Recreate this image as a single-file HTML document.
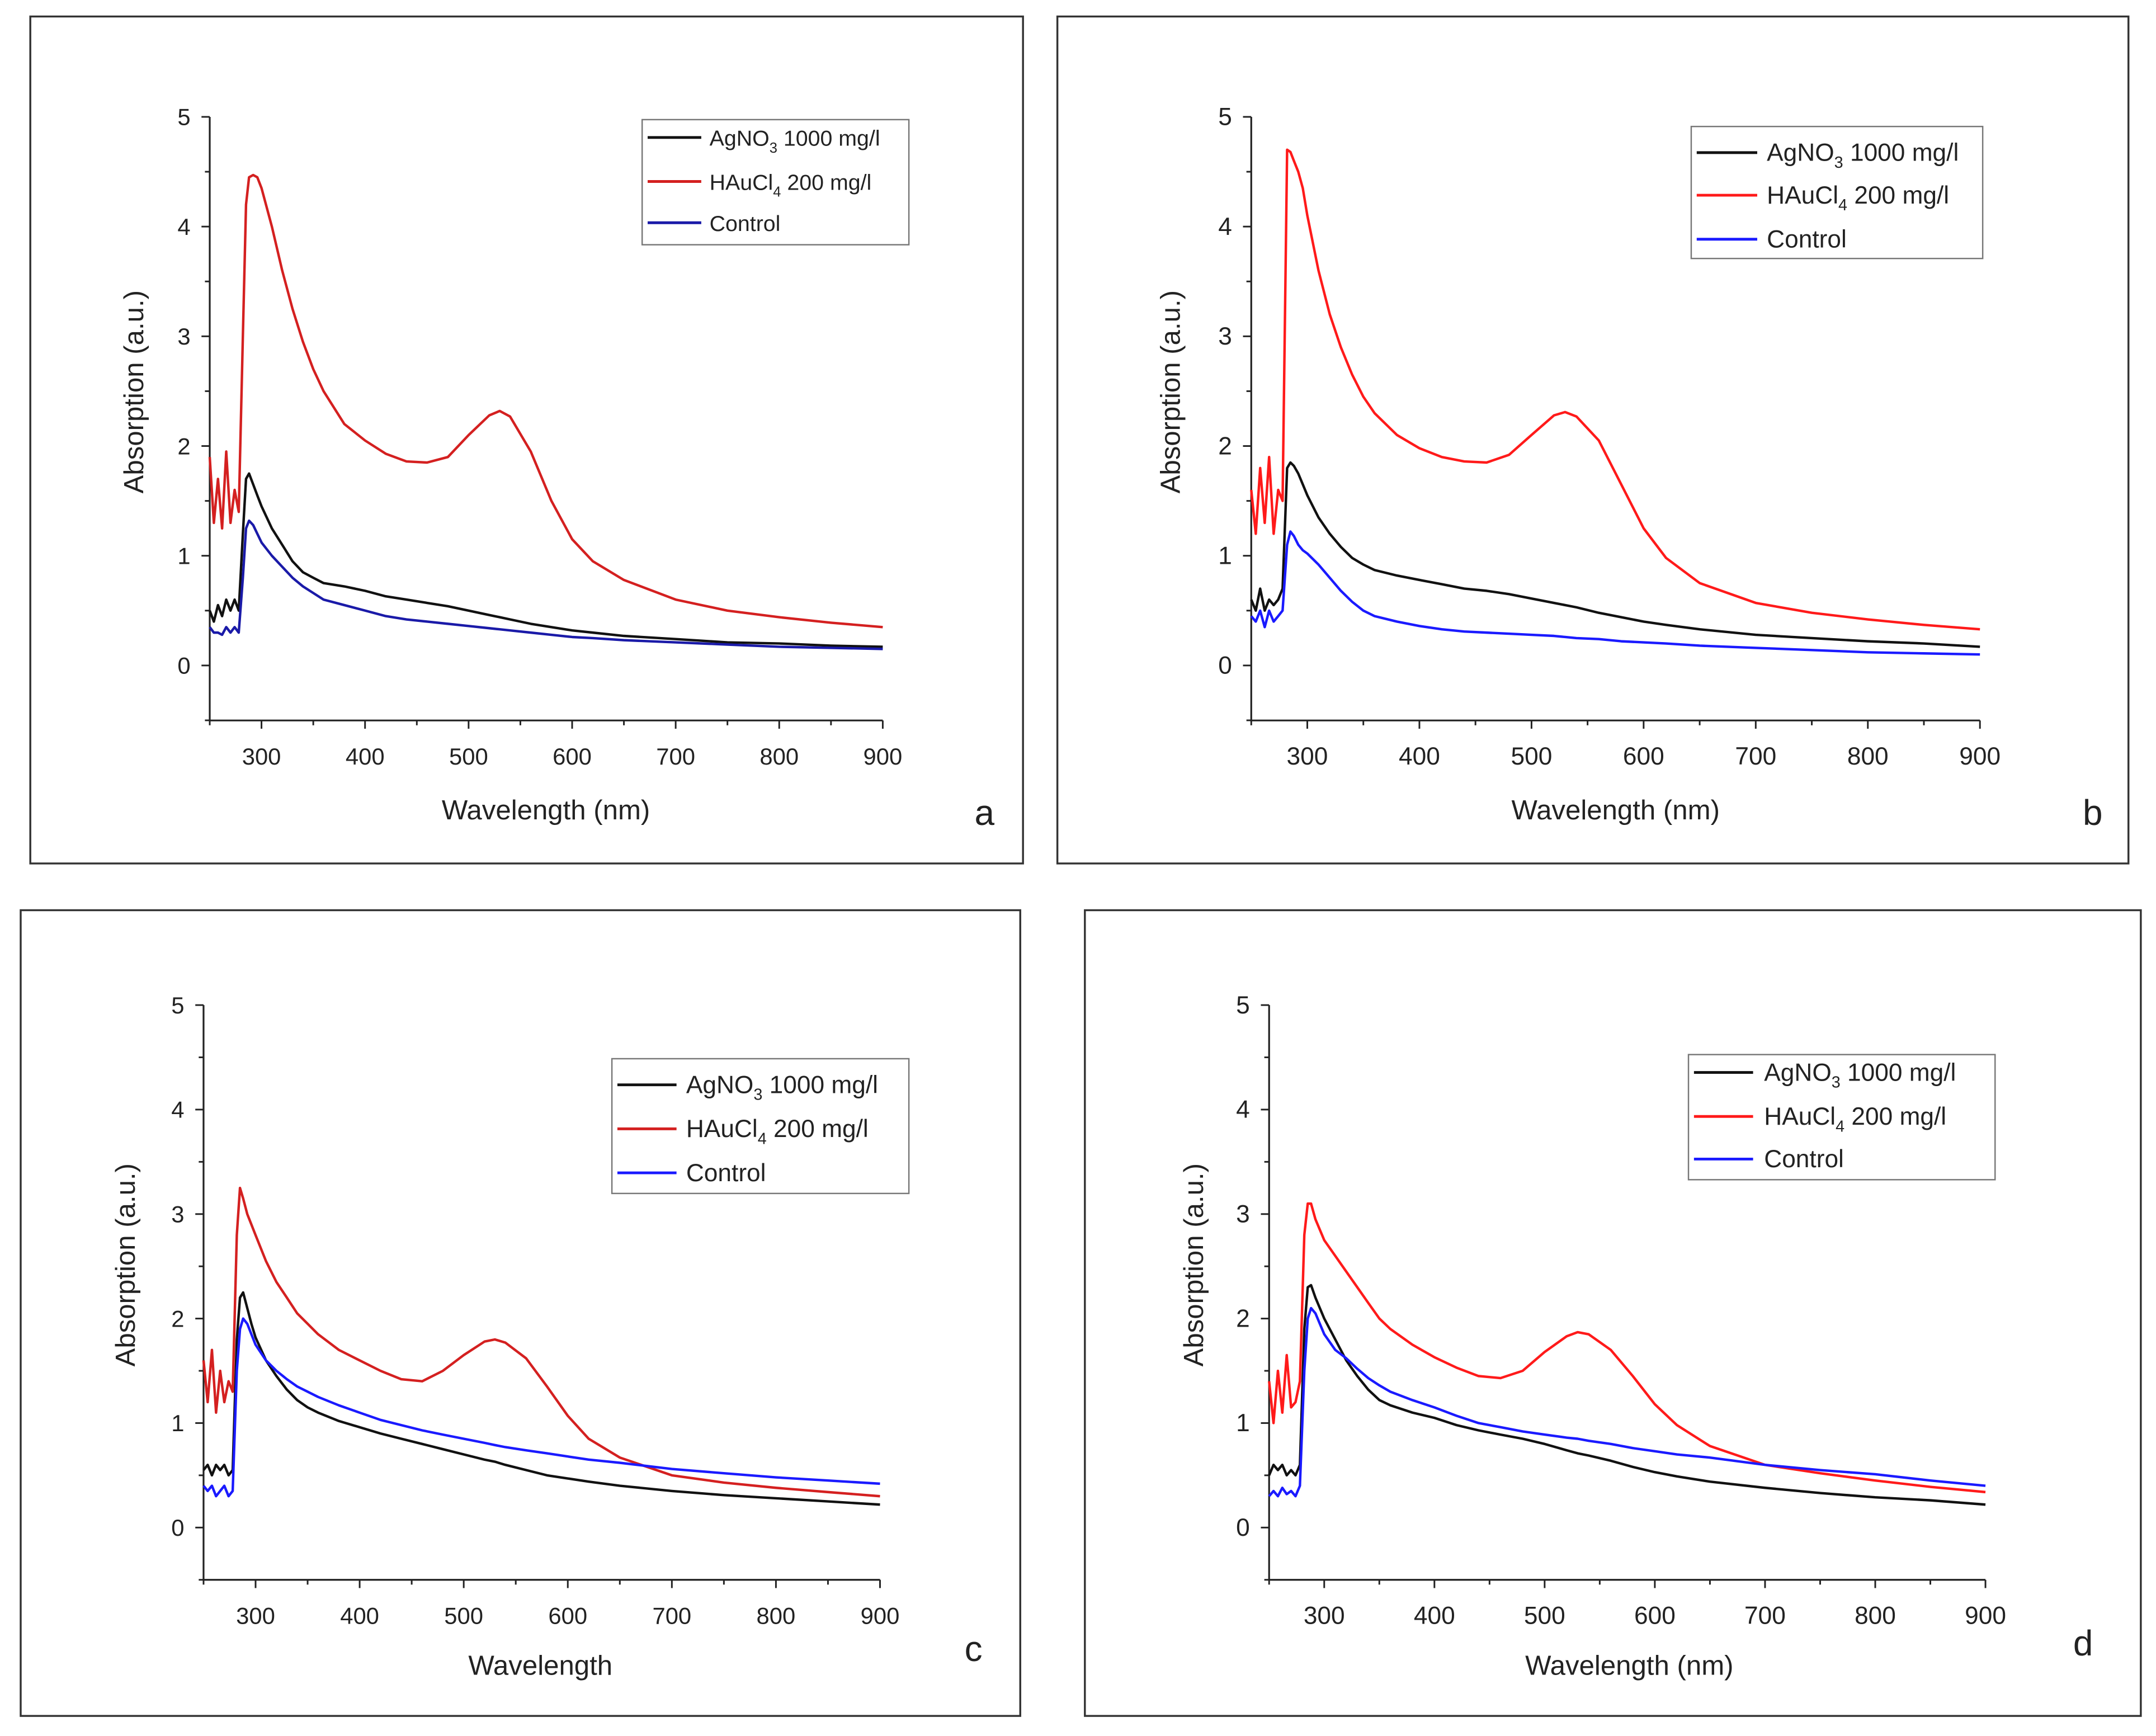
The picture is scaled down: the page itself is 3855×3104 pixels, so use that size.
<!DOCTYPE html>
<html><head><meta charset="utf-8"><style>
html,body{margin:0;padding:0;background:#fff}
svg{display:block}
text{font-family:"Liberation Sans",sans-serif;fill:#222}
</style></head><body>
<svg id="fig" width="3855" height="3104" viewBox="0 0 1568 1262.6" xmlns="http://www.w3.org/2000/svg"></svg>
<script>
// shared wavelength categories (nm)
const wavelengths=[250,254,258,262,266,270,274,278,282,285,288,292,296,300,310,320,330,340,350,360,380,400,420,440,460,480,500,520,530,540,560,580,600,620,650,700,750,800,850,900];
const xTicks=[300,400,500,600,700,800,900];
const yTicks=[0,1,2,3,4,5];
// panel a
const aRed=[1.9,1.3,1.7,1.25,1.95,1.3,1.6,1.4,3.0,4.2,4.45,4.47,4.45,4.35,4.0,3.6,3.25,2.95,2.7,2.5,2.2,2.05,1.93,1.86,1.85,1.9,2.1,2.28,2.32,2.27,1.95,1.5,1.15,0.95,0.78,0.6,0.5,0.44,0.39,0.35];
const aBlack=[0.5,0.4,0.55,0.45,0.6,0.5,0.6,0.5,1.2,1.7,1.75,1.65,1.55,1.45,1.25,1.1,0.95,0.85,0.8,0.75,0.72,0.68,0.63,0.6,0.57,0.54,0.5,0.46,0.44,0.42,0.38,0.35,0.32,0.3,0.27,0.24,0.21,0.2,0.18,0.17];
const aBlue=[0.35,0.3,0.3,0.28,0.35,0.3,0.35,0.3,0.8,1.25,1.32,1.28,1.2,1.12,1.0,0.9,0.8,0.72,0.66,0.6,0.55,0.5,0.45,0.42,0.4,0.38,0.36,0.34,0.33,0.32,0.3,0.28,0.26,0.25,0.23,0.21,0.19,0.17,0.16,0.15];
// panel b
const bRed=[1.6,1.2,1.8,1.3,1.9,1.2,1.6,1.5,4.7,4.68,4.6,4.5,4.35,4.1,3.6,3.2,2.9,2.65,2.45,2.3,2.1,1.98,1.9,1.86,1.85,1.92,2.1,2.28,2.31,2.27,2.05,1.65,1.25,0.98,0.75,0.57,0.48,0.42,0.37,0.33];
const bBlack=[0.6,0.5,0.7,0.5,0.6,0.55,0.6,0.7,1.8,1.85,1.82,1.75,1.65,1.55,1.35,1.2,1.08,0.98,0.92,0.87,0.82,0.78,0.74,0.7,0.68,0.65,0.61,0.57,0.55,0.53,0.48,0.44,0.4,0.37,0.33,0.28,0.25,0.22,0.2,0.17];
const bBlue=[0.45,0.4,0.5,0.35,0.5,0.4,0.45,0.5,1.1,1.22,1.18,1.1,1.05,1.02,0.92,0.8,0.68,0.58,0.5,0.45,0.4,0.36,0.33,0.31,0.3,0.29,0.28,0.27,0.26,0.25,0.24,0.22,0.21,0.2,0.18,0.16,0.14,0.12,0.11,0.1];
// panel c
const cRed=[1.6,1.2,1.7,1.1,1.5,1.2,1.4,1.3,2.8,3.25,3.15,3.0,2.9,2.8,2.55,2.35,2.2,2.05,1.95,1.85,1.7,1.6,1.5,1.42,1.4,1.5,1.65,1.78,1.8,1.77,1.62,1.35,1.07,0.85,0.67,0.5,0.43,0.38,0.34,0.3];
const cBlack=[0.55,0.6,0.5,0.6,0.55,0.6,0.5,0.55,1.8,2.2,2.25,2.1,1.95,1.82,1.6,1.45,1.32,1.22,1.15,1.1,1.02,0.96,0.9,0.85,0.8,0.75,0.7,0.65,0.63,0.6,0.55,0.5,0.47,0.44,0.4,0.35,0.31,0.28,0.25,0.22];
const cBlue=[0.4,0.35,0.4,0.3,0.35,0.4,0.3,0.35,1.5,1.9,2.0,1.95,1.85,1.75,1.6,1.5,1.42,1.35,1.3,1.25,1.17,1.1,1.03,0.98,0.93,0.89,0.85,0.81,0.79,0.77,0.74,0.71,0.68,0.65,0.62,0.56,0.52,0.48,0.45,0.42];
// panel d
const dRed=[1.4,1.0,1.5,1.1,1.65,1.15,1.2,1.4,2.8,3.1,3.1,2.95,2.85,2.75,2.6,2.45,2.3,2.15,2.0,1.9,1.75,1.63,1.53,1.45,1.43,1.5,1.68,1.83,1.87,1.85,1.7,1.45,1.18,0.98,0.78,0.6,0.52,0.45,0.39,0.34];
const dBlack=[0.5,0.6,0.55,0.6,0.5,0.55,0.5,0.6,1.9,2.3,2.32,2.2,2.1,2.0,1.8,1.6,1.45,1.32,1.22,1.17,1.1,1.05,0.98,0.93,0.89,0.85,0.8,0.74,0.71,0.69,0.64,0.58,0.53,0.49,0.44,0.38,0.33,0.29,0.26,0.22];
const dBlue=[0.3,0.35,0.3,0.38,0.32,0.35,0.3,0.4,1.5,2.0,2.1,2.05,1.95,1.85,1.7,1.62,1.52,1.43,1.36,1.3,1.22,1.15,1.07,1.0,0.96,0.92,0.89,0.86,0.85,0.83,0.8,0.76,0.73,0.7,0.67,0.6,0.55,0.51,0.45,0.4];

const NS='http://www.w3.org/2000/svg';
const svg=document.getElementById('fig');
function mk(tag,attrs,parent){const e=document.createElementNS(NS,tag);for(const k in attrs)e.setAttribute(k,attrs[k]);(parent||svg).appendChild(e);return e;}

const panels=[
 {id:'a',frame:[22,12,722,616],x250:152.5,x900:642,y0:484,y5:85,yb:524,black:aBlack,red:aRed,blue:aBlue,
  colors:['#111','#d42020','#1a1aa8'],leg:[467,87,194,91,[100,132,162],471,510,516,16],ytitle:[97,285],xtitle:[397,596,'Wavelength (nm)'],letter:[716,600],fs:17},
 {id:'b',frame:[769,12,779,616],x250:910,x900:1440,y0:484,y5:85,yb:524,black:bBlack,red:bRed,blue:bBlue,
  colors:['#111','#ff1a1a','#1a1aff'],leg:[1230,92,212,96,[111,142,174],1234,1278,1285,18],ytitle:[851,285],xtitle:[1175,596,'Wavelength (nm)'],letter:[1522,600],fs:18},
 {id:'c',frame:[15,662,727,586],x250:148,x900:640,y0:1111,y5:731,yb:1149,black:cBlack,red:cRed,blue:cBlue,
  colors:['#111','#d42020','#1a1aff'],leg:[445,770,216,98,[789,821,853],449,492,499,18],ytitle:[91,920],xtitle:[393,1218,'Wavelength'],letter:[708,1208],fs:17},
 {id:'d',frame:[789,662,768,586],x250:923,x900:1444,y0:1111,y5:731,yb:1149,black:dBlack,red:dRed,blue:dBlue,
  colors:['#111','#ff1a1a','#1a1aff'],leg:[1228,767,223,91,[780,812,843],1232,1275,1283,18],ytitle:[868,920],xtitle:[1185,1218,'Wavelength (nm)'],letter:[1515,1204],fs:18}
];
const labels=[['AgNO','3',' 1000 mg/l'],['HAuCl','4',' 200 mg/l'],['Control','','']];
const seriesNames=['agno3','haucl4','control'];

panels.forEach(p=>{
  const g=mk('g',{});
  
  
  const fr=mk('rect',{x:p.frame[0],y:p.frame[1],width:p.frame[2],height:p.frame[3],fill:'none',stroke:'#333','stroke-width':1.4},g);
  
  
  const X=w=>p.x250+(w-250)*(p.x900-p.x250)/650;
  const Y=v=>p.y0-v*(p.y0-p.y5)/5;
  const ax=mk('path',{d:`M${p.x250},${Y(5)}V${p.yb}H${p.x900}`,fill:'none',stroke:'#222','stroke-width':1.3},g);
  
  
  for(let w=250;w<=900;w+=50){const maj=w%100===0;mk('line',{x1:X(w),x2:X(w),y1:p.yb,y2:p.yb+(maj?6:3.5),stroke:'#222','stroke-width':1.2},g);}
  for(let v=-0.5;v<=5;v+=0.5){const maj=Math.abs(v-Math.round(v))<1e-6;mk('line',{x1:p.x250,x2:p.x250-(maj?6:3.5),y1:Y(v),y2:Y(v),stroke:'#222','stroke-width':1.2},g);}
  xTicks.forEach(t=>{const e=mk('text',{x:X(t),y:p.yb+32,'text-anchor':'middle','font-size':p.fs},g);e.textContent=t;
    
    });
  yTicks.forEach(t=>{const e=mk('text',{x:p.x250-14,y:Y(t)+6,'text-anchor':'end','font-size':p.fs},g);e.textContent=t;
    
    });
  const yt=mk('text',{x:p.ytitle[0],y:p.ytitle[1],'text-anchor':'middle','font-size':20,transform:`rotate(-90 ${p.ytitle[0]} ${p.ytitle[1]})`,dy:7},g);
  yt.textContent='Absorption (a.u.)';
  
  
  const xt=mk('text',{x:p.xtitle[0],y:p.xtitle[1],'text-anchor':'middle','font-size':20},g);
  xt.textContent=p.xtitle[2];
  
  
  const lt=mk('text',{x:p.letter[0],y:p.letter[1],'text-anchor':'middle','font-size':26},g);
  lt.textContent=p.id;
  
  
  const data=[p.black,p.red,p.blue];
  [1,0,2].forEach(i=>{
    const d=wavelengths.map((w,k)=>(k?'L':'M')+X(w).toFixed(1)+','+Y(data[i][k]).toFixed(1)).join('');
    const ln=mk('path',{d:d,fill:'none',stroke:p.colors[i],'stroke-width':1.8,'stroke-linejoin':'round'},g);
    
    
  });
  const L=p.leg;
  const lg=mk('g',{},g);
  
  
  mk('rect',{x:L[0],y:L[1],width:L[2],height:L[3],fill:'#fff',stroke:'#777','stroke-width':1},lg);
  labels.forEach((lb,i)=>{
    const ent=mk('g',{},lg);
    
    
    mk('line',{x1:L[5],x2:L[6],y1:L[4][i],y2:L[4][i],stroke:p.colors[i],'stroke-width':2},ent);
    const t=mk('text',{x:L[7],y:L[4][i]+6,'font-size':L[8]},ent);
    t.appendChild(document.createTextNode(lb[0]));
    if(lb[1]){const s=mk('tspan',{'font-size':L[8]*0.65,dy:5},t);s.textContent=lb[1];
      const r=mk('tspan',{dy:-5},t);r.textContent=lb[2];}
  });
});
</script>
</body></html>
